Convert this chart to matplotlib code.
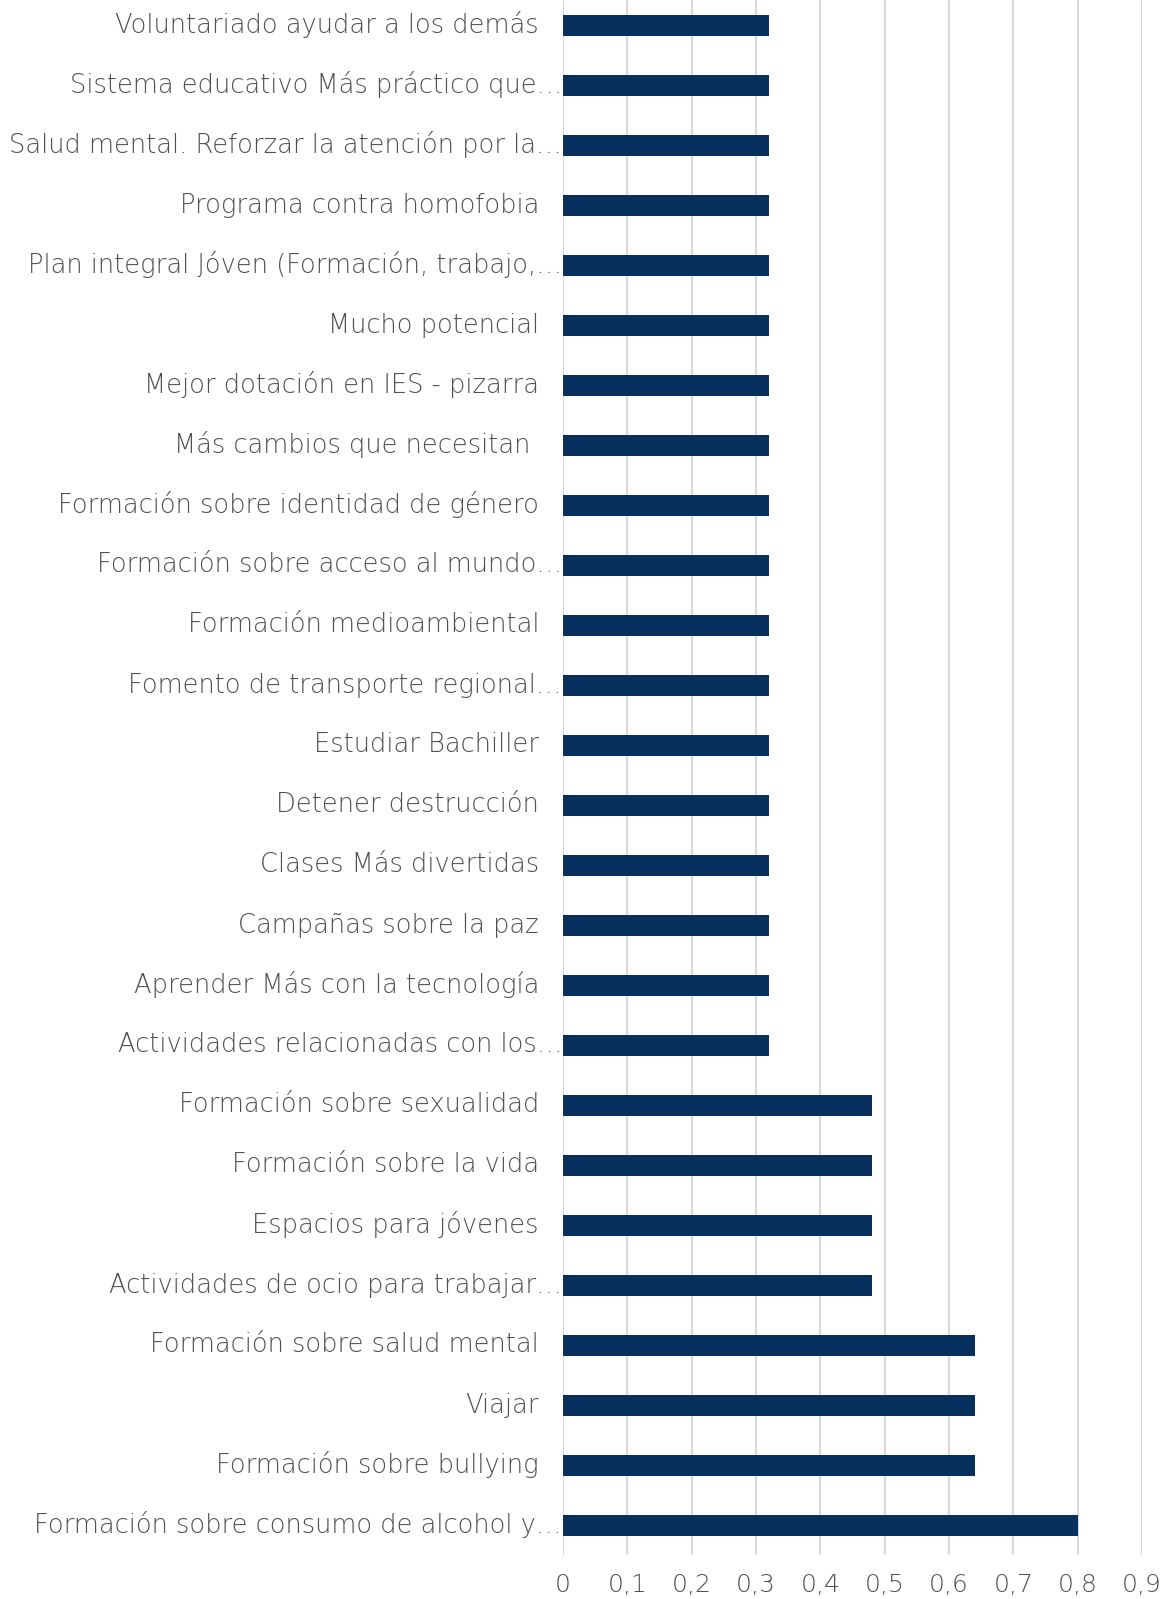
import matplotlib
matplotlib.use("Agg")
import matplotlib.pyplot as plt
import matplotlib.transforms as mtransforms
import numpy as np

# categorias (de arriba a abajo) y valores
categorias = [
    "Voluntariado ayudar a los demás",
    "Sistema educativo Más práctico que…",
    "Salud mental. Reforzar la atención por la…",
    "Programa contra homofobia",
    "Plan integral Jóven (Formación, trabajo,…",
    "Mucho potencial",
    "Mejor dotación en IES - pizarra",
    "Más cambios que necesitan ",
    "Formación sobre identidad de género",
    "Formación sobre acceso al mundo…",
    "Formación medioambiental",
    "Fomento de transporte regional…",
    "Estudiar Bachiller",
    "Detener destrucción",
    "Clases Más divertidas",
    "Campañas sobre la paz",
    "Aprender Más con la tecnología",
    "Actividades relacionadas con los…",
    "Formación sobre sexualidad",
    "Formación sobre la vida",
    "Espacios para jóvenes",
    "Actividades de ocio para trabajar…",
    "Formación sobre salud mental",
    "Viajar",
    "Formación sobre bullying",
    "Formación sobre consumo de alcohol y…",
]
valores = [0.32] * 18 + [0.48] * 4 + [0.64] * 3 + [0.8]

ticks_x = [0, 0.1, 0.2, 0.3, 0.4, 0.5, 0.6, 0.7, 0.8, 0.9]
etiquetas_x = ["0", "0,1", "0,2", "0,3", "0,4", "0,5", "0,6", "0,7", "0,8", "0,9"]

plt.rcParams['font.family'] = ['DejaVu Sans']
gris = "#505050"

W, H = 1164, 1599
fig = plt.figure(figsize=(W / 100, H / 100), dpi=100)
x0, x1 = 563, 1142
y_bot, y_top = 1555, -5
ax = fig.add_axes([x0 / W, (H - y_bot) / H, (x1 - x0) / W, (y_bot - y_top) / H])

y = np.arange(len(categorias))
ax.barh(y, valores, height=0.35, color="#08305f", zorder=3)
ax.set_ylim(len(categorias) - 0.5, -0.5)
ax.set_xlim(0, 0.9)

ax.set_xticks(ticks_x)
ax.set_xticklabels(etiquetas_x, color=gris, fontsize=18, fontweight="light")
ax.tick_params(axis="x", length=0, pad=13)
ax.set_yticks([])
ax.grid(axis="x", color="#d9d9d9", linewidth=1.5, zorder=0)
for s in ax.spines.values():
    s.set_visible(False)

# etiquetas de categoria: las truncadas llegan hasta el eje
trans = mtransforms.blended_transform_factory(ax.transAxes, ax.transData)
for i, lab in enumerate(categorias):
    gap = 1 if lab.endswith("…") else 24
    ax.text(-gap / (x1 - x0), i, lab, transform=trans, ha="right", va="center",
            fontsize=18.5, fontweight="light", color=gris)

fig.savefig("out.png", dpi=100)
